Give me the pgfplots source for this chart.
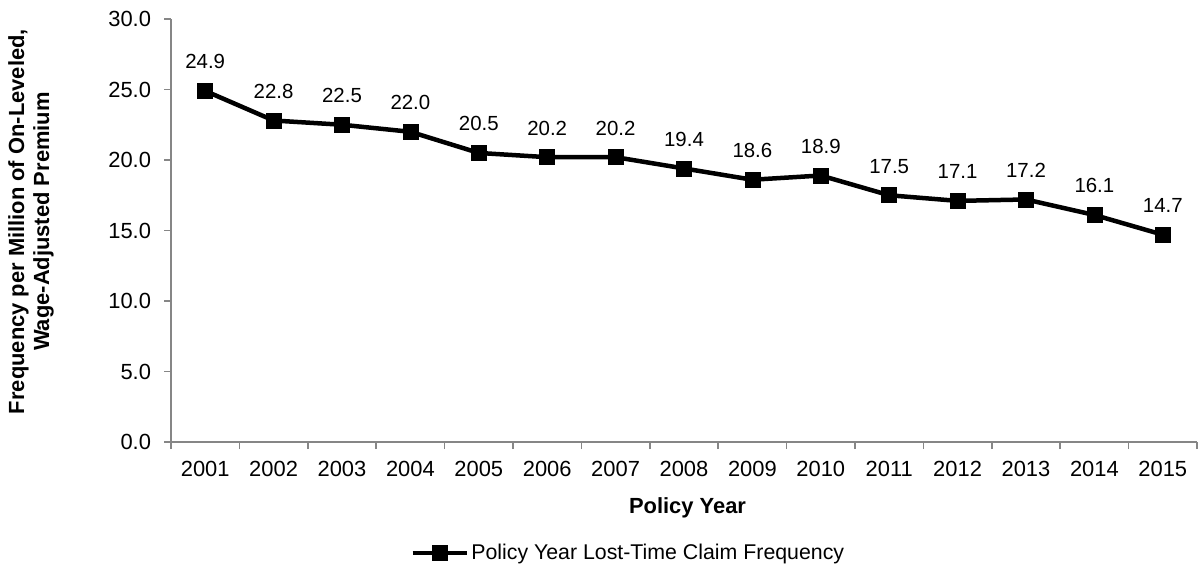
\documentclass[border=0pt]{standalone}
\usepackage{fontspec}
\setmainfont{Liberation Sans}
\usepackage{pgfplots}
\pgfplotsset{compat=1.18}
\definecolor{axisgray}{HTML}{868686}

\begin{document}
\begin{tikzpicture}
\useasboundingbox (-171bp,-125bp) rectangle (1027bp,442bp);
\begin{axis}[
  scale only axis,
  width=1026bp, height=423bp,
  xmin=-0.5, xmax=14.5, ymin=0, ymax=30,
  axis x line*=bottom, axis y line*=left,
  axis line style={draw=axisgray, line width=2bp},
  tick align=outside,
  xtick={0,...,14},
  xticklabels={2001,2002,2003,2004,2005,2006,2007,2008,2009,2010,2011,2012,2013,2014,2015},
  major x tick style={draw=none},
  minor xtick={-0.5,0.5,...,14.5},
  minor x tick style={draw=axisgray, line width=1.5bp},
  minor tick length=7bp,
  ytick={0,5,...,30},
  major tick length=6.5bp,
  y tick style={draw=axisgray, line width=1.5bp},
  /pgf/number format/assume math mode=true,
  yticklabel style={xshift=-10bp, /pgf/number format/.cd, fixed, fixed zerofill, precision=1},
  xticklabel style={yshift=-9bp},
  tick label style={font=\fontsize{22}{26}\selectfont},
  xlabel={Policy Year},
  ylabel={Frequency per Million of On-Leveled,\\Wage-Adjusted Premium},
  every axis x label/.style={at={(axis description cs:0.5034,-0.168)}, anchor=base,
    font=\bfseries\fontsize{22}{26}\selectfont},
  every axis y label/.style={at={(axis description cs:-0.1365,0.521)}, rotate=90, anchor=center,
    align=center, font=\bfseries\fontsize{22}{25}\selectfont},
  nodes near coords,
  point meta=explicit symbolic,
  every node near coord/.append style={anchor=base, yshift=22bp, inner sep=0pt,
    font=\fontsize{20.5}{24}\selectfont},
  legend style={at={(axis description cs:0.4459,-0.262)}, anchor=center, draw=none,
    font=\fontsize{21.4}{25}\selectfont, nodes={inner sep=2.5bp}},
  legend image code/.code={\draw[mark repeat=2, mark phase=2, #1]
    plot coordinates {(0bp,0bp) (27bp,0bp) (54bp,0bp)};},
]
\addplot[black, line width=4.5bp, mark=square*, mark size=7.5bp,
  mark options={solid, line width=0.5bp}]
  table[meta=lab] {
x  y     lab
0  24.9  24.9
1  22.8  22.8
2  22.5  22.5
3  22.0  22.0
4  20.5  20.5
5  20.2  20.2
6  20.2  20.2
7  19.4  19.4
8  18.6  18.6
9  18.9  18.9
10 17.5  17.5
11 17.1  17.1
12 17.2  17.2
13 16.1  16.1
14 14.7  14.7
};
\addlegendentry{Policy Year Lost-Time Claim Frequency}
\end{axis}
\end{tikzpicture}
\end{document}
